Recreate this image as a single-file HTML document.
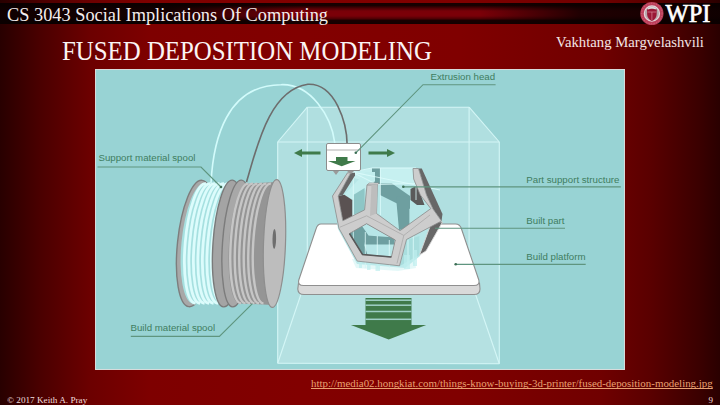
<!DOCTYPE html>
<html><head><meta charset="utf-8">
<style>
html,body{margin:0;padding:0;}
body{width:720px;height:405px;overflow:hidden;position:relative;
background:#6a0000;font-family:"Liberation Serif",serif;}
#bg{position:absolute;left:0;top:0;width:720px;height:405px;background:linear-gradient(to right,#280000 0px,#4a0000 40px,#6c0000 90px,#7e0000 150px,#820000 300px,#800000 460px,#700000 600px,#5a0000 650px,#3a0000 700px,#2a0000 720px);}
#bar{position:absolute;left:0;top:3px;width:720px;height:20.5px;background:linear-gradient(to bottom,#140000 0px,#180000 2.5px,#520004 5.5px,#780008 8px,#7c0008 11px,#780008 13px,#520004 15.5px,#180000 17.5px,#140000 20.5px);}
#barshade{position:absolute;left:0;top:3px;width:720px;height:20.5px;
background:linear-gradient(to right,rgba(10,0,0,.95) 0px,rgba(10,0,0,.9) 170px,rgba(10,0,0,0) 300px,rgba(10,0,0,0) 480px,rgba(10,0,0,.8) 580px,rgba(10,0,0,.95) 720px);}
.t{position:absolute;white-space:nowrap;color:#fff;}
#course{left:7px;top:2.7px;transform-origin:0 0;transform:scaleX(.99);font-size:18.5px;line-height:24px;color:#f4eeee;}
#title{left:62px;top:34px;transform-origin:0 0;transform:scaleX(.92);font-size:27px;line-height:34px;color:#fbf4f4;}
#author{left:556px;top:33.2px;font-size:14px;transform-origin:0 0;transform:scaleX(1.05);line-height:20px;color:#f4e6e6;}
#url{left:311px;top:377px;transform-origin:0 0;transform:scaleX(1.09);font-size:10px;line-height:13px;color:#e9a172;text-decoration:underline;text-decoration-skip-ink:none;}
#foot{left:6.5px;top:393.8px;font-size:8.6px;transform-origin:0 0;transform:scaleX(1.07);line-height:12px;color:#f0dede;}
#pg{left:708.5px;top:393.8px;font-size:9px;line-height:12px;color:#f0dede;}
#wpi{left:665.6px;top:0.8px;font-size:24.5px;line-height:26px;font-weight:normal;-webkit-text-stroke:0.6px #fff;transform-origin:0 0;transform:scaleX(1);color:#fff;}
#pic{position:absolute;left:95px;top:69px;width:530px;height:301px;background:#98d3d4;}
svg{position:absolute;left:0;top:0;}
.lab{font-family:"Liberation Sans",sans-serif;font-size:9.7px;fill:#3f7d60;}
</style></head><body>
<div id="bg"></div>
<div id="bar"></div>
<div id="barshade"></div>
<div class="t" id="course">CS 3043 Social Implications Of Computing</div>
<div class="t" id="title">FUSED DEPOSITION MODELING</div>
<div class="t" id="author">Vakhtang Margvelashvili</div>
<div class="t" id="wpi">WPI</div>
<div id="pic"></div>
<svg width="720" height="405" viewBox="0 0 720 405"><defs><clipPath id="cp"><rect x="95" y="69" width="530" height="301"/></clipPath></defs>
<g clip-path="url(#cp)">
<rect x="95" y="69" width="530" height="301" fill="#98d3d4"/>
<polygon points="307.3,107.2 469.1,107.2 499.3,142 499.3,363.8 277.7,363.3 277.7,142" fill="#b0dfe0"/>
<polygon points="307.3,275.5 469.1,275.5 499.3,363.8 277.7,363.3" fill="#b5e1e2"/>
<line x1="307.3" y1="107.2" x2="469.1" y2="107.2" stroke="#d4f6f6" stroke-width="1.1"/>
<line x1="307.3" y1="107.2" x2="277.7" y2="142" stroke="#d4f6f6" stroke-width="1.1"/>
<line x1="469.1" y1="107.2" x2="499.3" y2="142" stroke="#d4f6f6" stroke-width="1.1"/>
<line x1="277.7" y1="142" x2="499.3" y2="142" stroke="#d4f6f6" stroke-width="1.1"/>
<line x1="277.7" y1="142" x2="277.7" y2="363.3" stroke="#d4f6f6" stroke-width="1.1"/>
<line x1="499.3" y1="142" x2="499.3" y2="363.8" stroke="#d4f6f6" stroke-width="1.1"/>
<line x1="277.7" y1="363.3" x2="499.3" y2="363.8" stroke="#d4f6f6" stroke-width="1.1"/>
<line x1="307.3" y1="107.2" x2="307.3" y2="275.5" stroke="#d4f6f6" stroke-width="1.1"/>
<line x1="469.1" y1="107.2" x2="469.1" y2="275.5" stroke="#d4f6f6" stroke-width="1.1"/>
<line x1="307.3" y1="275.5" x2="277.7" y2="363.3" stroke="#d4f6f6" stroke-width="1.1"/>
<line x1="469.1" y1="275.5" x2="499.3" y2="363.8" stroke="#d4f6f6" stroke-width="1.1"/>
<ellipse cx="195.5" cy="243.5" rx="18" ry="63.5" transform="rotate(6 195.5 243.5)" fill="#a8a8a8" stroke="#7d7d7d" stroke-width="1.4"/>
<path d="M204.3,183.3 A17.5,60.5 5.5 0 0 192.7,303.7 L231,304 L238,183 Z" fill="#a6e0e0"/>
<path d="M205.9,183.7 A15.5,60 5 0 0 195.5,303.3" fill="none" stroke="#dcfcfc" stroke-width="2.8"/>
<path d="M210.4,183.7 A15.5,60 5 0 0 200,303.3" fill="none" stroke="#dcfcfc" stroke-width="2.8"/>
<path d="M214.9,183.7 A15.5,60 5 0 0 204.5,303.3" fill="none" stroke="#dcfcfc" stroke-width="2.8"/>
<path d="M219.4,183.7 A15.5,60 5 0 0 209,303.3" fill="none" stroke="#dcfcfc" stroke-width="2.8"/>
<path d="M223.9,183.7 A15.5,60 5 0 0 213.5,303.3" fill="none" stroke="#dcfcfc" stroke-width="2.8"/>
<path d="M228.4,183.7 A15.5,60 5 0 0 218,303.3" fill="none" stroke="#dcfcfc" stroke-width="2.8"/>
<path d="M232.9,183.7 A15.5,60 5 0 0 222.5,303.3" fill="none" stroke="#dcfcfc" stroke-width="2.8"/>
<ellipse cx="228" cy="243.5" rx="15" ry="63.5" transform="rotate(4 228 243.5)" fill="#a4a4a4" stroke="#7a7a7a" stroke-width="1.4"/>
<ellipse cx="237" cy="243.5" rx="14.5" ry="63.5" transform="rotate(4 237 243.5)" fill="#a8a8a8" stroke="#7c7c7c" stroke-width="1.4"/>
<path d="M247.7,183.6 A14.5,60 4 0 0 239.3,303.4 L272,305 L276,182 Z" fill="#959595"/>
<path d="M248.4,183.6 A14,60 3.5 0 0 241,303.4" fill="none" stroke="#c6c6c6" stroke-width="2.4"/>
<path d="M252.9,183.6 A14,60 3.5 0 0 245.5,303.4" fill="none" stroke="#c6c6c6" stroke-width="2.4"/>
<path d="M257.4,183.6 A14,60 3.5 0 0 250,303.4" fill="none" stroke="#c6c6c6" stroke-width="2.4"/>
<path d="M261.9,183.6 A14,60 3.5 0 0 254.5,303.4" fill="none" stroke="#c6c6c6" stroke-width="2.4"/>
<path d="M266.4,183.6 A14,60 3.5 0 0 259,303.4" fill="none" stroke="#c6c6c6" stroke-width="2.4"/>
<path d="M270.9,183.6 A14,60 3.5 0 0 263.5,303.4" fill="none" stroke="#c6c6c6" stroke-width="2.4"/>
<ellipse cx="274.5" cy="243.5" rx="11" ry="64" transform="rotate(2 274.5 243.5)" fill="#bdbdbd" stroke="#8e8e8e" stroke-width="1.2"/>
<ellipse cx="274.3" cy="239" rx="1.8" ry="10" transform="rotate(1 274.3 239)" fill="#6e6e6e"/>
<path d="M211.0,183.0 C213.3,139.0 226.8,85.1 280.9,84.7 C311.1,83.4 331.5,116.8 334.8,143.0" fill="none" stroke="#d2fbfb" stroke-width="1.6"/>
<path d="M246.5,182.0 C256.0,150.9 268.3,89.9 307.9,84.3 C335.8,83.1 347.0,124.0 347.2,145.4" fill="none" stroke="#6d6d6d" stroke-width="1.6"/>
<path d="M298.5,283 L297.8,289 Q298,294.5 304,294.5 L474,294.5 Q480,294.5 480,289 L479.5,283 Z" fill="#d9d9d9" stroke="#8f8f8f" stroke-width="1.1"/>
<path d="M321,224 L455.5,224 Q460,224 461.5,229 L478.8,280 Q480,285.5 474,285.5 L303.5,285.5 Q297.5,285.5 298.8,280 L316,229 Q317.5,224 321,224 Z" fill="#ffffff" stroke="#8f8f8f" stroke-width="1.1"/>
<polygon points="349,173 372,167.5 416,167.5 442,212 420,256 405,268 357,264 338,229 332.5,197.5" fill="#b7e6e7"/>
<polygon points="349,173.5 372,168 416,168 420,183.5 377,184.5 354,178" fill="#c6f0f0"/>
<polygon points="372,168 380,168 380,184.5 372,184.5" fill="#6e9fa0"/>
<polygon points="344.3,194.7 365.7,172 375,172 375,181.3 353.7,200" fill="#c2eeee"/>
<polygon points="353.7,194.7 364.6,188 364.6,211 353.7,214.5" fill="#8ec6c6"/>
<polygon points="337.9,196 344.3,194.7 352.3,200 352.3,218.7 342.8,220.8" fill="#5a5252"/>
<polygon points="380,183.5 392,183.5 410,196 410,209 396,203 380,195" fill="#6e9fa0"/>
<polygon points="396,197 409.4,195.7 409.4,228 399,230" fill="#6e9fa0"/>
<polygon points="410.5,189 415,186.5 417.6,186.5 424.5,205 417,205 410.5,200" fill="#5a5a5a"/>
<polygon points="348,232.5 362,226 368.5,235.6 364,244 368,256.5 362.5,256" fill="#6e9fa0"/>
<polygon points="367.2,235.6 395,237.5 394,244.4 364,244.4" fill="#6e9fa0"/>
<polygon points="406.5,240 419.4,236 419.4,255 400,266" fill="#a9dede"/>
<line x1="353.3" y1="176" x2="353.3" y2="250" stroke="#dffcfc" stroke-width="1" opacity="0.8"/>
<line x1="380.4" y1="168" x2="380.4" y2="215" stroke="#dffcfc" stroke-width="1" opacity="0.8"/>
<line x1="416" y1="168" x2="416" y2="200" stroke="#dffcfc" stroke-width="1" opacity="0.8"/>
<line x1="365.3" y1="232" x2="365.3" y2="268" stroke="#dffcfc" stroke-width="1" opacity="0.8"/>
<line x1="377.3" y1="236" x2="377.3" y2="268" stroke="#dffcfc" stroke-width="1" opacity="0.8"/>
<line x1="389.3" y1="240" x2="389.3" y2="268" stroke="#dffcfc" stroke-width="1" opacity="0.8"/>
<line x1="408" y1="240" x2="408" y2="268" stroke="#dffcfc" stroke-width="1" opacity="0.8"/>
<line x1="413.3" y1="236" x2="413.3" y2="264" stroke="#dffcfc" stroke-width="1" opacity="0.8"/>
<path d="M352,172 L372,168 L416,168 M352,172 L377,184.5 L420,183.5 M352,172 L440,190" fill="none" stroke="#dffcfc" stroke-width="0.9" opacity="0.9"/>
<path d="M352,259 L400,266 L414,258 L416,268 L398,271 L356,268 Z" fill="#c4f0f0" opacity="0.45"/>
<rect x="367" y="257" width="3.5" height="13" fill="#bdeeee" opacity="0.7"/>
<rect x="375.5" y="258" width="4.5" height="13" fill="#bdeeee" opacity="0.7"/>
<rect x="404" y="255" width="6" height="14" fill="#bdeeee" opacity="0.7"/>
<rect x="413" y="250" width="4" height="16" fill="#bdeeee" opacity="0.7"/>
<rect x="359" y="258" width="3" height="10" fill="#bdeeee" opacity="0.7"/>
<polygon points="350.8,172.8 355,172.8 355,175.4 342.8,195 338.2,196" fill="#676767"/>
<polygon points="418.5,168.5 421.8,168.5 442.5,214 441.5,221 433,209 426.5,195" fill="#676767"/>
<polygon points="432,221 442.5,222 426,251 419.5,255" fill="#676767" stroke="#d8d8d8" stroke-width="0.9"/>
<polygon points="348.3,232.8 366.6,222.7 396.3,239.5 392.2,258 361.7,255.6" fill="none" stroke="#4f4f4f" stroke-width="1.6"/>
<path d="M347.5,172.8 L350.8,172.8 L338.2,196 L342.8,220.8 L364.6,209.9 L367,184.8 L377.4,184.8 L376.5,213.5 L400,230.7 L430.8,208.6 L420.3,195 L413.7,179 L413,168.5 L418.5,168.5 L426.5,195 L433,209 L441.5,221 L406.5,239.5 L399.5,265.8 L357.2,261.1 L338.9,228.2 L332.5,196 Z M349.5,233.5 L366.6,223.7 L395.3,240 L391.4,257 L362.5,254.5 Z" fill="#cdcdcd" fill-rule="evenodd" stroke="#8a8a8a" stroke-width="0.8"/>
<path d="M339.9,227.2 L366.6,215.8 L403.8,235.4 L430,215 M403.8,235.4 L397,263.5" fill="none" stroke="#a9a9a9" stroke-width="0.8"/>
<polygon points="367.5,184.8 377.4,184.8 379,183 369,183" fill="#e0e0e0" stroke="#8a8a8a" stroke-width="0.6"/>
<polygon points="371.5,184.8 377.4,184.8 376.5,213.5 370,216" fill="#bdbdbd"/>
<path d="M349.5,233.5 L362.5,254.5 L391.4,257" fill="none" stroke="#585858" stroke-width="1.5"/>
<rect x="326.5" y="143.5" width="34" height="27" rx="1.5" fill="#ffffff" stroke="#8c8c8c" stroke-width="1"/>
<line x1="327" y1="150" x2="360" y2="150" stroke="#b0b0b0" stroke-width="1"/>
<path d="M336,157 L347.5,157 L347.5,161 L355.5,161 L341.7,166.3 L328,161 L336,161 Z" fill="#3f7a4a"/>
<path d="M333,171 L339,171 L336,175 Z" fill="#9a9a9a"/>
<path d="M347,171 L354,171 L351,174 Z" fill="#9a9a9a"/>
<path d="M320.5,151.5 L302,151.5 L302,149 L294,153 L302,157 L302,154.5 L320.5,154.5 Z" fill="#3f7a4a"/>
<path d="M368.5,151.5 L387,151.5 L387,149 L395,153 L387,157 L387,154.5 L368.5,154.5 Z" fill="#3f7a4a"/>
<rect x="365.5" y="298" width="46" height="27.5" fill="#3f7a4a"/>
<rect x="365.5" y="299.45" width="46" height="1.5" fill="#9fd0c8"/>
<rect x="365.5" y="304.45" width="46" height="1.5" fill="#9fd0c8"/>
<rect x="365.5" y="310.75" width="46" height="1.5" fill="#9fd0c8"/>
<rect x="365.5" y="318.55" width="46" height="1.5" fill="#9fd0c8"/>
<path d="M350.9,325 L426.2,325 L388.7,339.5 Z" fill="#3f7a4a"/>
<g class="lab">
<text x="98.5" y="161.4">Support material spool</text>
<text x="130.5" y="331">Build material spool</text>
<text x="430.5" y="79.8">Extrusion head</text>
<text x="526.3" y="182.8">Part support structure</text>
<text x="526.3" y="224.1">Built part</text>
<text x="526.3" y="260">Build platform</text>
</g>
<path d="M97.5,167 L201,167 L221,187" fill="none" stroke="#5f957f" stroke-width="1.15"/>
<path d="M130.8,336.3 L219.4,336.3 L252.4,303.6" fill="none" stroke="#5f957f" stroke-width="1.15"/>
<path d="M495.6,84.7 L423,84.7 L355.8,152.8" fill="none" stroke="#5f957f" stroke-width="1.15"/>
<path d="M403.3,186.8 L620.8,186.8" fill="none" stroke="#5f957f" stroke-width="1.15"/>
<path d="M435,228.2 L565,228.2" fill="none" stroke="#5f957f" stroke-width="1.15"/>
<path d="M455.7,264.3 L585.7,264.3" fill="none" stroke="#5f957f" stroke-width="1.15"/>
<circle cx="221" cy="187" r="1.3" fill="#3c6e55"/>
<circle cx="355.8" cy="152.8" r="1.3" fill="#3c6e55"/>
<circle cx="403.3" cy="186.8" r="1.3" fill="#3c6e55"/>
<circle cx="455.7" cy="264.3" r="1.3" fill="#3c6e55"/>
<rect x="95.5" y="69.5" width="529" height="300" fill="none" stroke="#e2dcdc" stroke-width="1" opacity="0.85"/>
</g>
<circle cx="651.9" cy="13.5" r="11.6" fill="#bc3f5a"/>
<circle cx="651.9" cy="13.5" r="10.2" fill="none" stroke="#d8687e" stroke-width="0.8" stroke-dasharray="1.2 1.4"/>
<circle cx="651.9" cy="13.5" r="7.6" fill="#b8a8ac" stroke="#e6d6da" stroke-width="1.2"/>
<path d="M647,9.5 Q651.9,7.5 656.8,9.5 L656.6,15 Q656,19 651.9,21 Q647.8,19 647.2,15 Z" fill="#9a1836"/>
<path d="M647.5,12 L656.3,12 M651.9,12 L651.9,20" stroke="#d88898" stroke-width="0.7"/>
<path d="M648,9 Q651.9,6.5 655.8,9" fill="none" stroke="#dcdcdc" stroke-width="1.3"/></svg>
<div class="t" id="url">http://media02.hongkiat.com/things-know-buying-3d-printer/fused-deposition-modeling.jpg</div>
<div class="t" id="foot">© 2017 Keith A. Pray</div>
<div class="t" id="pg">9</div>
</body></html>
